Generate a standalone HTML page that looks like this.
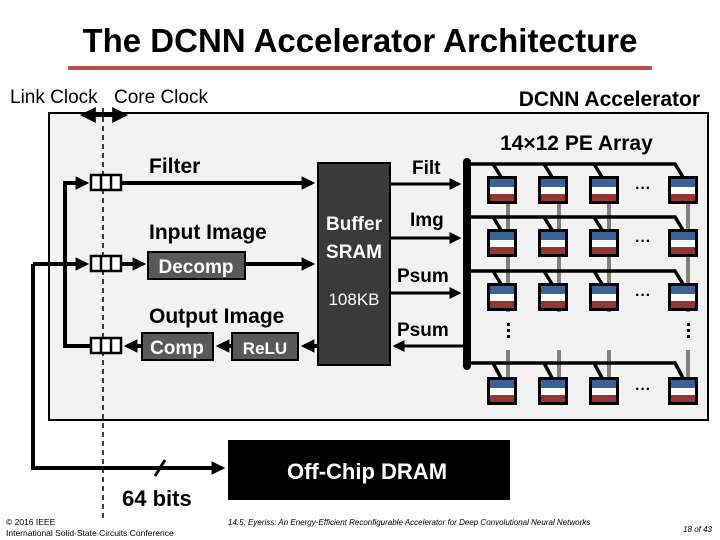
<!DOCTYPE html>
<html><head><meta charset="utf-8"><style>
html,body{margin:0;padding:0;background:#fff;}
svg{display:block;font-family:"Liberation Sans",Arial,sans-serif;}
</style></head><body>
<svg width="720" height="540" viewBox="0 0 720 540" xmlns="http://www.w3.org/2000/svg">
<defs>
<marker id="a" markerWidth="3.4" markerHeight="3.4" refX="2.6" refY="1.7" orient="auto-start-reverse" markerUnits="strokeWidth"><path d="M0,0 L3.4,1.7 L0,3.4 z" fill="#000"/></marker>
<marker id="b" markerWidth="4" markerHeight="4" refX="3.2" refY="2" orient="auto-start-reverse" markerUnits="strokeWidth"><path d="M0,0 L4,2 L0,4 z" fill="#000"/></marker>
<g id="pe"><rect x="0" y="0" width="30" height="28" fill="#000"/><rect x="3" y="3" width="24" height="8" fill="#3a6297"/><rect x="3" y="11" width="24" height="7" fill="#fff"/><rect x="3" y="18" width="24" height="7" fill="#943634"/></g>
<g id="fifo"><rect x="0" y="0" width="30" height="15" fill="#fff" stroke="#000" stroke-width="2.5"/><line x1="10" y1="0" x2="10" y2="15" stroke="#000" stroke-width="2.5"/><line x1="20" y1="0" x2="20" y2="15" stroke="#000" stroke-width="2.5"/></g>
</defs>
<text x="360" y="52" text-anchor="middle" font-size="33" font-weight="bold">The DCNN Accelerator Architecture</text>
<rect x="68" y="66" width="584" height="4" fill="#c0504d"/>
<text x="10" y="103" font-size="19">Link Clock</text>
<text x="114" y="103" font-size="19">Core Clock</text>
<text x="700" y="106" text-anchor="end" font-size="21" font-weight="bold">DCNN Accelerator</text>
<rect x="49" y="113" width="659" height="307" fill="#f2f2f2" stroke="#000" stroke-width="2"/>
<line x1="83" y1="115" x2="125" y2="115" stroke="#000" stroke-width="4" marker-start="url(#b)" marker-end="url(#b)"/>
<line x1="103" y1="108" x2="103" y2="520" stroke="#000" stroke-width="1.5" stroke-dasharray="5,4"/>
<polyline points="91,346 65,346 65,183 86,183" fill="none" stroke="#000" stroke-width="4" marker-end="url(#a)"/>
<polyline points="33,264 86,264" fill="none" stroke="#000" stroke-width="4" marker-end="url(#a)"/>
<polyline points="33,264 33,468 222,468" fill="none" stroke="#000" stroke-width="4" marker-end="url(#a)"/>
<line x1="155" y1="476" x2="165" y2="460" stroke="#000" stroke-width="3"/>
<use href="#fifo" x="91" y="175"/><use href="#fifo" x="91" y="256"/><use href="#fifo" x="91" y="338"/>
<line x1="121" y1="183" x2="312" y2="183" stroke="#000" stroke-width="4" marker-end="url(#a)"/>
<line x1="121" y1="264" x2="143" y2="264" stroke="#000" stroke-width="4" marker-end="url(#a)"/>
<line x1="245" y1="264" x2="312" y2="264" stroke="#000" stroke-width="4" marker-end="url(#a)"/>
<line x1="318" y1="346" x2="304" y2="346" stroke="#000" stroke-width="4" marker-end="url(#a)"/>
<line x1="232" y1="346" x2="219" y2="346" stroke="#000" stroke-width="4" marker-end="url(#a)"/>
<line x1="142" y1="346" x2="127" y2="346" stroke="#000" stroke-width="4" marker-end="url(#a)"/>
<text x="149" y="173" font-size="21" font-weight="bold">Filter</text>
<text x="149" y="239" font-size="21" font-weight="bold">Input Image</text>
<text x="149" y="323" font-size="21" font-weight="bold">Output Image</text>
<rect x="148" y="252" width="97" height="27" fill="#595959" stroke="#000" stroke-width="2"/>
<text x="196" y="273" text-anchor="middle" font-size="19" font-weight="bold" fill="#fff">Decomp</text>
<rect x="142" y="333" width="71" height="27" fill="#595959" stroke="#000" stroke-width="2"/>
<text x="177" y="354" text-anchor="middle" font-size="19" font-weight="bold" fill="#fff">Comp</text>
<rect x="232" y="333" width="66" height="27" fill="#595959" stroke="#000" stroke-width="2"/>
<text x="265" y="354" text-anchor="middle" font-size="17" font-weight="bold" fill="#fff">ReLU</text>
<rect x="318" y="163" width="72" height="202" fill="#3a3a3a" stroke="#000" stroke-width="2"/>
<text x="354" y="230" text-anchor="middle" font-size="19" font-weight="bold" fill="#fff">Buffer</text>
<text x="354" y="258" text-anchor="middle" font-size="19" font-weight="bold" fill="#fff">SRAM</text>
<text x="354" y="305" text-anchor="middle" font-size="17" fill="#fff">108KB</text>
<line x1="390" y1="184" x2="459" y2="184" stroke="#000" stroke-width="3" marker-end="url(#b)"/>
<line x1="390" y1="238" x2="459" y2="238" stroke="#000" stroke-width="3" marker-end="url(#b)"/>
<line x1="390" y1="293" x2="459" y2="293" stroke="#000" stroke-width="3" marker-end="url(#b)"/>
<line x1="463" y1="346" x2="395" y2="346" stroke="#000" stroke-width="3" marker-end="url(#b)"/>
<text x="412" y="174" font-size="19" font-weight="bold">Filt</text>
<text x="410" y="226" font-size="19" font-weight="bold">Img</text>
<text x="397" y="282" font-size="19" font-weight="bold">Psum</text>
<text x="397" y="336" font-size="19" font-weight="bold">Psum</text>
<text x="500" y="150" font-size="21" font-weight="bold">14×12 PE Array</text>
<g stroke="#808080" stroke-width="4">
<line x1="508" y1="200" x2="508" y2="312"/><line x1="559" y1="200" x2="559" y2="312"/><line x1="609" y1="200" x2="609" y2="312"/><line x1="688" y1="200" x2="688" y2="312"/>
<line x1="508" y1="350" x2="508" y2="380"/><line x1="559" y1="350" x2="559" y2="380"/><line x1="609" y1="350" x2="609" y2="380"/><line x1="688" y1="350" x2="688" y2="380"/>
</g>
<g stroke="#000" stroke-width="3.5" fill="none">
<polyline points="467,164 675,164 683,177"/><polyline points="467,217 675,217 683,230"/><polyline points="467,271 675,271 683,284"/><polyline points="467,363 675,363 683,378"/>
<line x1="493" y1="164" x2="501" y2="177"/><line x1="544" y1="164" x2="552" y2="177"/><line x1="594" y1="164" x2="602" y2="177"/>
<line x1="493" y1="217" x2="501" y2="230"/><line x1="544" y1="217" x2="552" y2="230"/><line x1="594" y1="217" x2="602" y2="230"/>
<line x1="493" y1="271" x2="501" y2="284"/><line x1="544" y1="271" x2="552" y2="284"/><line x1="594" y1="271" x2="602" y2="284"/>
<line x1="493" y1="363" x2="501" y2="378"/><line x1="544" y1="363" x2="552" y2="378"/><line x1="594" y1="363" x2="602" y2="378"/>
</g>
<line x1="467" y1="162" x2="467" y2="366" stroke="#000" stroke-width="8" stroke-linecap="round"/>
<g>
<use href="#pe" x="487" y="176"/><use href="#pe" x="538" y="176"/><use href="#pe" x="589" y="176"/><use href="#pe" x="668" y="176"/>
<use href="#pe" x="487" y="229"/><use href="#pe" x="538" y="229"/><use href="#pe" x="589" y="229"/><use href="#pe" x="668" y="229"/>
<use href="#pe" x="487" y="283"/><use href="#pe" x="538" y="283"/><use href="#pe" x="589" y="283"/><use href="#pe" x="668" y="283"/>
<use href="#pe" x="487" y="377"/><use href="#pe" x="538" y="377"/><use href="#pe" x="589" y="377"/><use href="#pe" x="668" y="377"/>
</g>
<g font-size="16" font-weight="bold" text-anchor="middle">
<text x="643" y="193">···</text><text x="643" y="246">···</text><text x="643" y="300">···</text><text x="643" y="394">···</text>
</g>
<g fill="#000"><rect x="507" y="323" width="3" height="3"/><rect x="507" y="329" width="3" height="3"/><rect x="507" y="335" width="3" height="3"/>
<rect x="687" y="323" width="3" height="3"/><rect x="687" y="329" width="3" height="3"/><rect x="687" y="335" width="3" height="3"/></g>
<rect x="228" y="440" width="282" height="60" fill="#000"/>
<text x="367" y="479" text-anchor="middle" font-size="22" font-weight="bold" fill="#fff">Off-Chip DRAM</text>
<text x="122" y="506" font-size="22" font-weight="bold">64 bits</text>
<text x="6" y="525" font-size="8.5">© 2016 IEEE</text>
<text x="6" y="536" font-size="8.5">International Solid-State Circuits Conference</text>
<text x="228" y="525" font-size="8" font-style="italic">14.5: Eyeriss: An Energy-Efficient Reconfigurable Accelerator for Deep Convolutional Neural Networks</text>
<text x="712" y="532" text-anchor="end" font-size="8" font-style="italic">18 of 43</text>
</svg>
</body></html>
